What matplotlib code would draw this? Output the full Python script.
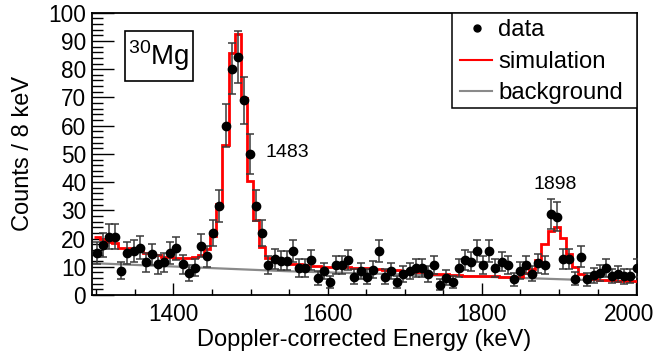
import numpy as np
import matplotlib
matplotlib.use("Agg")
import matplotlib.pyplot as plt
from matplotlib.lines import Line2D
from matplotlib.patches import Rectangle
from matplotlib.ticker import MultipleLocator
from matplotlib.transforms import ScaledTranslation

plt.rcParams['font.family'] = ['Liberation Sans', 'DejaVu Sans']
plt.rcParams['mathtext.fontset'] = 'custom'
plt.rcParams['mathtext.rm'] = 'Liberation Sans'

# bin centres (keV)
energy = np.linspace(1300.5, 2000.5, 89)

counts = [14.8, 17.7, 20.7, 20.7, 8.6, 14.8, 15.6, 16.8, 11.6, 14.4,
          10.9, 11.6, 14.8, 16.6, 10.9, 7.7, 9.7, 17.5, 13.8, 21.9,
          31.6, 60.0, 80.2, 84.2, 69.0, 50.0, 31.7, 21.9, 10.6, 12.7,
          12.2, 12.2, 15.6, 9.5, 9.5, 12.4, 6.0, 8.5, 4.5, 10.7,
          10.6, 12.5, 6.5, 8.5, 6.5, 9.0, 15.6, 6.5, 8.5, 4.5,
          7.5, 8.5, 9.5, 9.5, 7.5, 10.6, 3.6, 6.2, 4.5, 9.5,
          12.5, 11.8, 15.7, 10.6, 15.7, 9.5, 11.8, 10.6, 5.5, 8.6,
          10.6, 7.6, 11.3, 10.6, 28.8, 27.8, 12.7, 12.7, 5.8, 13.6,
          5.5, 7.0, 7.7, 9.6, 6.7, 7.4, 6.6, 6.7, 9.6]

simulation = [20.7, 19.8, 18.7, 18.6, 16.6, 16.6, 16.2, 15.7, 15.0, 14.2,
              14.2, 13.6, 13.6, 13.2, 13.2, 13.2, 13.4, 14.0, 16.3, 20.9,
              32.4, 53.2, 85.8, 92.5, 69.8, 40.5, 26.4, 17.1, 13.2, 12.3,
              11.6, 11.3, 11.1, 10.9, 10.7, 10.4, 10.3, 10.1, 10.0, 9.9,
              9.8, 9.8, 9.6, 9.5, 9.4, 9.3, 9.2, 9.0, 8.9, 8.7,
              8.5, 8.3, 8.3, 8.0, 7.8, 7.6, 7.5, 7.4, 7.2, 7.0,
              6.9, 6.8, 6.7, 6.7, 6.6, 6.6, 6.5, 6.5, 6.5, 6.5,
              7.8, 9.2, 12.3, 18.2, 22.6, 24.2, 20.3, 14.4, 9.9, 7.5,
              6.2, 5.6, 5.4, 5.3, 5.2, 5.1, 5.0, 4.9, 4.8]

bg_energy = [1294, 1550, 1800, 2002]
bg_counts = [11.3, 8.4, 6.5, 4.7]

peak_labels = ["1483", "1898"]
peak_label_pos = [(1547, 50.5), (1895, 39.0)]

legend_labels = ['data', 'simulation', 'background']

bin_width = energy[1] - energy[0]
edges = np.append(energy - bin_width / 2, energy[-1] + bin_width / 2)

RED = '#ff0000'
GRAY = '#8a8a8a'

fig = plt.figure(figsize=(6.58, 3.56), dpi=100)
ax = fig.add_axes([0.1394, 0.1713, 0.8286, 0.793])

ax.plot(bg_energy, bg_counts, color=GRAY, lw=1.6, zorder=2)
ax.stairs(simulation, edges, baseline=None, color=RED, lw=2.0, zorder=3)
ax.errorbar(energy, counts, yerr=np.sqrt(counts), fmt='o', color='black',
            ms=6, ecolor='#3a3a3a', elinewidth=1.1, capsize=2.8, capthick=1.1,
            zorder=4)

ax.set_xlim(1294, 2001)
ax.set_ylim(0, 100)
ax.xaxis.set_major_locator(MultipleLocator(200))
ax.xaxis.set_minor_locator(MultipleLocator(50))
ax.yaxis.set_major_locator(MultipleLocator(10))
ax.yaxis.set_minor_locator(MultipleLocator(2))
ax.tick_params(axis='both', which='both', direction='in', labelsize=16.3,
               width=1.0, color='black')
ax.tick_params(axis='x', which='major', length=8.5, pad=6)
ax.tick_params(axis='x', which='minor', length=4.3)
ax.tick_params(axis='y', which='major', length=16, pad=4)
ax.tick_params(axis='y', which='minor', length=8)
for s in ax.spines.values():
    s.set_linewidth(1.3)

ax.set_xlabel('Doppler-corrected Energy (keV)', fontsize=17, labelpad=2)
ax.set_ylabel('Counts / 8 keV', fontsize=17, labelpad=10)

for lab, (xx, yy) in zip(peak_labels, peak_label_pos):
    ax.text(xx, yy, lab, fontsize=14, ha='center', va='center')

# isotope box
ax.add_patch(Rectangle((0.061, 0.759), 0.125, 0.176, transform=ax.transAxes,
                       fill=False, edgecolor='black', lw=1.2, zorder=5))
ax.text(0.1235, 0.847, r'$^{30}$Mg', transform=ax.transAxes, fontsize=20,
        ha='center', va='center', zorder=6)

# legend box drawn by hand (ROOT-like layout)
ax.add_patch(Rectangle((0.6607, 0.664), 0.3393, 0.336, transform=ax.transAxes,
                       facecolor='white', edgecolor='black', lw=1.1, zorder=7))
row_y = [0.9448, 0.8324, 0.7237]
base_y = [0.9163, 0.8041, 0.6954]
ax.add_line(Line2D([0.7063], [row_y[0]], transform=ax.transAxes, ls='none',
                   marker='o', color='black', ms=5, zorder=8))
ax.add_line(Line2D([0.676, 0.7345], [row_y[1]] * 2, transform=ax.transAxes,
                   color=RED, lw=1.5, zorder=8))
ax.add_line(Line2D([0.676, 0.7345], [row_y[2]] * 2, transform=ax.transAxes,
                   color=GRAY, lw=1.5, zorder=8))
for lab, yb in zip(legend_labels, base_y):
    ax.text(0.7455, yb, lab, transform=ax.transAxes, fontsize=17.2,
            ha='left', va='baseline', zorder=9)

fig.canvas.draw()
for lbl in ax.get_xticklabels():
    if lbl.get_text() == '2000':
        lbl.set_transform(lbl.get_transform() +
                          ScaledTranslation(-7 / 100, 0, fig.dpi_scale_trans))

fig.savefig('out.png', dpi=100)
